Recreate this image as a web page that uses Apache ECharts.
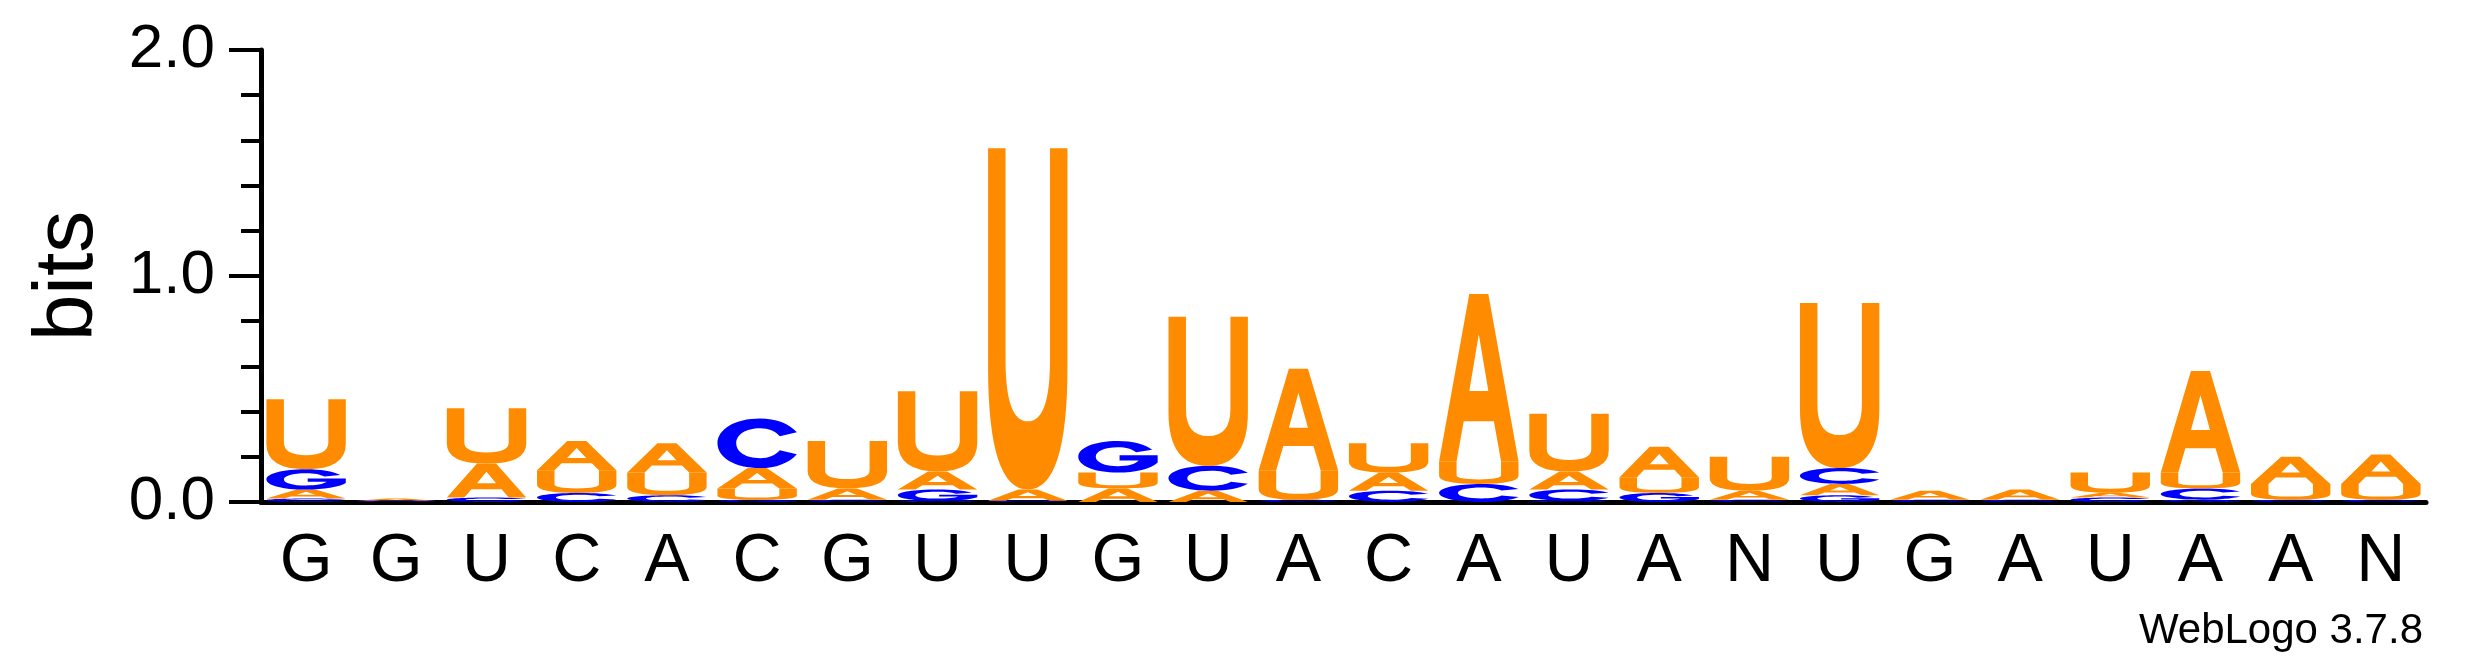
<!DOCTYPE html>
<html>
<head>
<meta charset="utf-8">
<script src="https://cdn.jsdelivr.net/npm/echarts@6/dist/echarts.min.js"></script>
<style>html,body{margin:0;padding:0;background:#fff}#logo{width:2475px;height:667px}</style>
</head>
<body>
<div id="logo"></div>
<script>
// 位置标签（共识序列）
var positions = ['G','G','U','C','A','C','G','U','U','G','U','A','C','A','U','A','N','U','G','A','U','A','A','N'];
// 每个碱基在各位置的高度 (bits)
var bitsA = [0.04,0.01,0.15,0.13,0.13,0.09,0.05,0.08,0.05,0.06,0.05,0.45,0.08,0.74,0.08,0.135,0.04,0.05,0.04,0.045,0.021,0.45,0.12,0.13];
var bitsC = [0.015,0,0.02,0.04,0.03,0.22,0.01,0.005,0.005,0,0.11,0.01,0.05,0.08,0.05,0,0.01,0.07,0.01,0.01,0.02,0.05,0.01,0.01];
var bitsG = [0.09,0.005,0,0,0,0.01,0,0.05,0,0.14,0,0,0,0,0.005,0.04,0,0.03,0,0,0,0.01,0,0];
var bitsU = [0.31,0,0.245,0.1,0.1,0.05,0.21,0.355,1.51,0.07,0.66,0.13,0.13,0.1,0.255,0.07,0.15,0.73,0,0,0.09,0.07,0.07,0.07];

var glyphs = {
  A: 'M0 100 L38 0 L62 0 L100 100 L78 100 L69 76 L31 76 L22 100 Z M38 58 L62 58 L50 24 Z',
  U: 'M0 0 L22 0 L22 62 Q22 80 50 80 Q78 80 78 62 L78 0 L100 0 L100 64 Q100 100 50 100 Q0 100 0 64 Z',
  C: 'M93 28 C84 10 68 0 50 0 C20 0 0 22 0 50 C0 78 20 100 50 100 C68 100 84 90 93 72 L73 64 C68 74 60 80 50 80 C33 80 22 67 22 50 C22 33 33 20 50 20 C60 20 68 26 73 36 Z',
  G: 'M93 28 C84 10 68 0 50 0 C20 0 0 22 0 50 C0 78 20 100 50 100 C72 100 92 88 100 68 L100 45 L52 45 L52 62 L76 62 C72 74 62 80 50 80 C33 80 22 67 22 50 C22 33 33 20 50 20 C60 20 68 26 73 36 Z'
};
var colors = { A: '#ff8c00', U: '#ff8c00', C: '#0000ff', G: '#0000ff' };

// 按高度排序堆叠，小的在下
var stackData = [];
positions.forEach(function (p, i) {
  var items = [['A', bitsA[i]], ['C', bitsC[i]], ['G', bitsG[i]], ['U', bitsU[i]]]
    .filter(function (d) { return d[1] > 0; })
    .sort(function (a, b) { return a[1] - b[1]; });
  var base = 0;
  items.forEach(function (d) {
    stackData.push([i, base, base + d[1], d[0]]);
    base += d[1];
  });
});

var chart = echarts.init(document.getElementById('logo'));
chart.setOption({
  animation: false,
  grid: { left: 261, right: 49, top: 50, bottom: 165 },
  xAxis: {
    type: 'category',
    data: positions,
    axisLine: { onZero: false, lineStyle: { color: '#000', width: 5 } },
    axisTick: { alignWithLabel: true, length: 20, lineStyle: { color: '#000', width: 4 } },
    axisLabel: { color: '#000', fontSize: 68, fontFamily: 'Liberation Sans', margin: 26, interval: 0 }
  },
  yAxis: {
    type: 'value', min: 0, max: 2, interval: 1,
    name: 'bits', nameLocation: 'middle', nameGap: 150,
    nameTextStyle: { color: '#000', fontSize: 84, fontFamily: 'Liberation Sans' },
    axisLine: { show: true, lineStyle: { color: '#000', width: 5 } },
    axisTick: { show: true, length: 32, lineStyle: { color: '#000', width: 4 } },
    minorTick: { show: true, splitNumber: 5, length: 20, lineStyle: { color: '#000', width: 4 } },
    splitLine: { show: false },
    axisLabel: { color: '#000', fontSize: 62, fontFamily: 'Liberation Sans', margin: 46,
      formatter: function (v) { return v.toFixed(1); } }
  },
  graphic: [{
    type: 'text', right: 52, top: 610,
    style: { text: 'WebLogo 3.7.8', fontSize: 42, fontFamily: 'Liberation Sans', fill: '#000' }
  }],
  series: [{
    type: 'custom',
    data: stackData,
    encode: { x: 0, y: [1, 2] },
    renderItem: function (params, api) {
      var lo = api.coord([api.value(0), api.value(1)]);
      var hi = api.coord([api.value(0), api.value(2)]);
      var w = api.size([1, 0])[0] * 0.88;
      var letter = stackData[params.dataIndex][3];
      return {
        type: 'path',
        shape: { pathData: glyphs[letter], x: lo[0] - w / 2, y: hi[1], width: w, height: Math.max(lo[1] - hi[1], 0.5), layout: 'cover' },
        style: { fill: colors[letter] }
      };
    }
  }]
});
</script>
</body>
</html>
